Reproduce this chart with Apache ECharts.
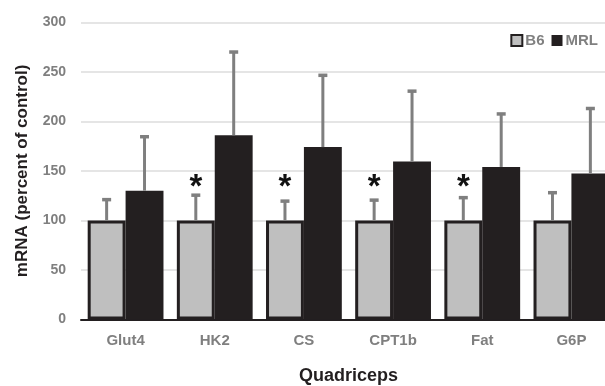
<!DOCTYPE html>
<html>
<head>
<meta charset="utf-8">
<script src="https://cdn.jsdelivr.net/npm/echarts@6/dist/echarts.min.js"></script>
<style>html,body{margin:0;padding:0;background:#fff}#c{width:605px;height:386px}</style>
</head>
<body>
<div id="c"></div>
<script>
const categories = ['Glut4', 'HK2', 'CS', 'CPT1b', 'Fat', 'G6P'];
const b6 = [100, 100, 100, 100, 100, 100];
const b6Err = [22, 26.5, 20.5, 21.5, 24, 29];
const mrl = [130, 186, 174, 159.5, 154, 147.5];
const mrlErr = [55.5, 85, 73.5, 72, 54.5, 66.5];
const significant = [false, true, true, true, true, false];
const yTicks = [0, 50, 100, 150, 200, 250, 300];

const FONT = '"Liberation Sans", Arial, sans-serif';
const GAP = 0.15;

const errData = [];
categories.forEach((c, i) => {
  errData.push([i, b6[i], b6Err[i], 0]);
  errData.push([i, mrl[i], mrlErr[i], 1]);
});

const chart = echarts.init(document.getElementById('c'), null, {renderer: 'canvas'});
chart.setOption({
  animation: false,
  textStyle: {fontFamily: FONT},
  grid: {left: 81, top: 22.3, width: 535, height: 297.2, containLabel: false, outerBoundsMode: 'none'},
  legend: {
    data: ['B6', 'MRL'],
    right: 2, top: 28,
    itemWidth: 11, itemHeight: 11, itemGap: 7,
    icon: 'rect',
    textStyle: {fontFamily: FONT, fontWeight: 'bold', fontSize: 15, color: '#808080', padding: [0, 0, 0, -2]}
  },
  xAxis: {
    type: 'category',
    data: categories,
    axisLine: {lineStyle: {color: '#231f20', width: 2}},
    axisTick: {show: false},
    axisLabel: {fontFamily: FONT, fontWeight: 'bold', fontSize: 15, color: '#7f7f7f', margin: 14},
    name: 'Quadriceps',
    nameLocation: 'middle',
    nameGap: 48,
    nameTextStyle: {fontFamily: FONT, fontWeight: 'bold', fontSize: 18, color: '#231f20'}
  },
  yAxis: {
    type: 'value',
    min: yTicks[0], max: yTicks[yTicks.length - 1], interval: 50,
    axisLine: {show: false},
    axisTick: {show: false},
    splitLine: {lineStyle: {color: '#dcdcdc', width: 1.5}},
    axisLabel: {fontFamily: FONT, fontWeight: 'bold', fontSize: 14, color: '#7f7f7f', margin: 15},
    name: 'mRNA (percent of control)',
    nameLocation: 'middle',
    nameGap: 50,
    nameTextStyle: {fontFamily: FONT, fontWeight: 'bold', fontSize: 17, color: '#231f20'}
  },
  series: [
    {
      name: 'B6', type: 'bar', data: b6,
      barGap: '0%', barCategoryGap: (GAP * 100) + '%',
      itemStyle: {color: '#bfbfbf', borderColor: '#231f20', borderWidth: 3},
      label: {
        show: true, position: 'top', distance: 16,
        formatter: p => significant[p.dataIndex] ? '*' : '',
        fontFamily: FONT, fontWeight: 'bold', fontSize: 33, color: '#111'
      },
      z: 2
    },
    {
      name: 'MRL', type: 'bar', data: mrl,
      itemStyle: {color: '#231f20'},
      z: 2
    },
    {
      type: 'custom',
      data: errData,
      encode: {x: 0, y: 1},
      z: 3,
      silent: true,
      renderItem: function (params, api) {
        const i = api.value(0), v = api.value(1), e = api.value(2), s = api.value(3);
        const band = api.size([1, 0])[0];
        const bw = band * (1 - GAP) / 2;
        const off = s === 0 ? -bw / 2 : bw / 2;
        const p0 = api.coord([i, v]);
        const p1 = api.coord([i, v + e]);
        const x = p0[0] + off;
        const st = {stroke: '#7f7f7f', lineWidth: 3};
        return {
          type: 'group',
          children: [
            {type: 'line', shape: {x1: x, y1: p0[1], x2: x, y2: p1[1]}, style: st},
            {type: 'line', shape: {x1: x - 4.5, y1: p1[1] + 1, x2: x + 4.5, y2: p1[1] + 1}, style: {stroke: '#7f7f7f', lineWidth: 3.5}}
          ]
        };
      }
    }
  ]
});
</script>
</body>
</html>
